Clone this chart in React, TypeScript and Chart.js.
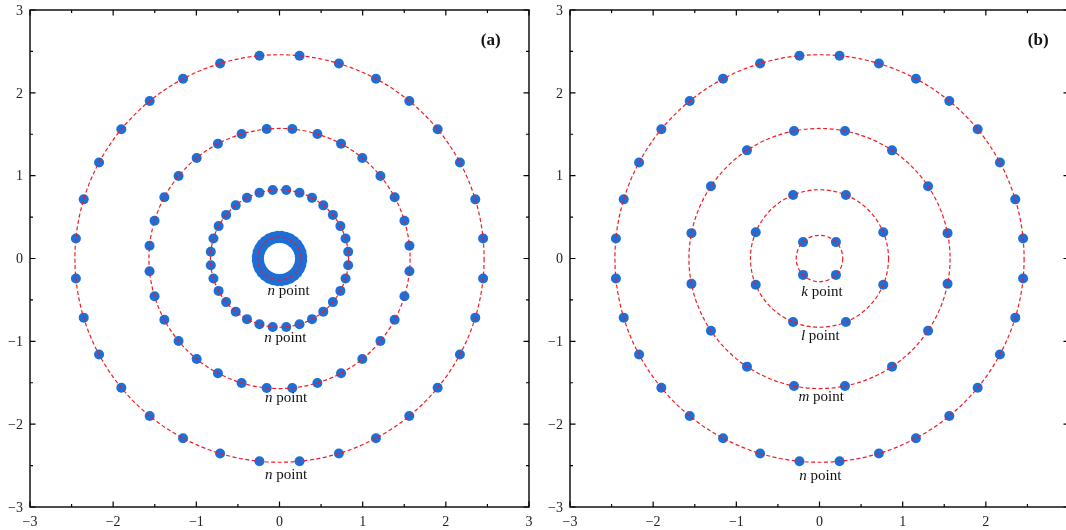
import React, { useEffect, useRef } from 'react';
import { Chart, registerables } from 'chart.js';
Chart.register(...registerables);

// ---- data ----
const tickValues = [-3, -2, -1, 0, 1, 2, 3];
const minorTickValues = [-2.5, -1.5, -0.5, 0.5, 1.5, 2.5];

const ringRadiiA = [0.26, 0.83, 1.57, 2.46];
const ringCountsA = [32, 32, 32, 32];
const ringDotSizeA = [6.2, 5, 5, 5];
const ringLabelsA = ['n', 'n', 'n', 'n'];
const labelXA = [0.11, 0.07, 0.08, 0.08];
const labelYA = [-0.44, -1.01, -1.73, -2.66];

const ringRadiiB = [0.28, 0.83, 1.57, 2.46];
const ringCountsB = [4, 8, 16, 32];
const ringDotSizeB = [5, 5, 5, 5];
const ringLabelsB = ['k', 'l', 'm', 'n'];
const labelXB = [0.03, 0.01, 0.02, 0.01];
const labelYB = [-0.45, -0.985, -1.72, -2.67];

const panelTags = ['(a)', '(b)'];
const panelTagX = [2.54, 2.63];
const panelTagY = 2.58;

const BLUE = 'rgb(30,110,215)';
const RED = 'rgb(238,28,36)';
const SERIF = '"Liberation Serif", "DejaVu Serif", serif';

function ringPoints(r: number, n: number) {
  const pts: { x: number; y: number }[] = [];
  const off = Math.PI / n;
  for (let k = 0; k < n; k++) {
    const a = off + (2 * Math.PI * k) / n;
    pts.push({ x: r * Math.cos(a), y: r * Math.sin(a) });
  }
  return pts;
}

const fmt = (v: number) => (v < 0 ? '\u2212' + Math.abs(v) : String(v));

function makeConfig(
  radii: number[], counts: number[], sizes: number[], labels: string[],
  lx: number[], ly: number[], tag: string, tagX: number
): any {
  const datasets = radii.map((r, i) => ({
    type: 'scatter',
    data: ringPoints(r, counts[i]),
    pointRadius: sizes[i],
    pointBackgroundColor: BLUE,
    pointBorderWidth: 0,
    showLine: false,
  }));
  const deco = {
    id: 'deco',
    afterDatasetsDraw(chart: any) {
      const { ctx, scales } = chart;
      const xs = scales.x, ys = scales.y;
      const cx = xs.getPixelForValue(0), cy = ys.getPixelForValue(0);
      ctx.save();
      ctx.strokeStyle = RED;
      ctx.lineWidth = 1.2;
      ctx.setLineDash([4, 2.5]);
      radii.forEach((r) => {
        const rx = Math.abs(xs.getPixelForValue(r) - cx);
        const ry = Math.abs(ys.getPixelForValue(r) - cy);
        ctx.beginPath();
        ctx.ellipse(cx, cy, rx, ry, 0, 0, Math.PI * 2);
        ctx.stroke();
      });
      ctx.restore();
    },
    afterDraw(chart: any) {
      const { ctx, scales, chartArea: ca } = chart;
      const xs = scales.x, ys = scales.y;
      ctx.save();
      // ring labels
      ctx.fillStyle = '#111';
      ctx.textBaseline = 'alphabetic';
      ctx.textAlign = 'left';
      labels.forEach((l, i) => {
        const it = 'italic 15px ' + SERIF;
        const rg = '15px ' + SERIF;
        ctx.font = it;
        const w1 = ctx.measureText(l).width;
        ctx.font = rg;
        const w2 = ctx.measureText(' point').width;
        const px = xs.getPixelForValue(lx[i]) - (w1 + w2) / 2;
        const py = ys.getPixelForValue(ly[i]);
        ctx.font = it;
        ctx.fillText(l, px, py);
        ctx.font = rg;
        ctx.fillText(' point', px + w1, py);
      });
      // panel tag
      ctx.font = 'bold 17px ' + SERIF;
      ctx.textAlign = 'center';
      ctx.fillText(tag, xs.getPixelForValue(tagX), ys.getPixelForValue(panelTagY));
      // tick labels
      ctx.font = '14px ' + SERIF;
      ctx.fillStyle = '#222';
      ctx.textBaseline = 'middle';
      ctx.textAlign = 'center';
      tickValues.forEach((v) => {
        ctx.fillText(fmt(v), xs.getPixelForValue(v), ca.bottom + 15);
      });
      ctx.textAlign = 'right';
      tickValues.forEach((v) => {
        ctx.fillText(fmt(v), ca.left - 7, ys.getPixelForValue(v) + 1);
      });
      // frame
      ctx.strokeStyle = '#000';
      ctx.lineWidth = 1.4;
      ctx.strokeRect(ca.left, ca.top, ca.right - ca.left, ca.bottom - ca.top);
      // ticks inward on all sides
      ctx.lineWidth = 1.2;
      const drawTicks = (vals: number[], len: number) => {
        ctx.beginPath();
        vals.forEach((v) => {
          const px = xs.getPixelForValue(v);
          ctx.moveTo(px, ca.bottom); ctx.lineTo(px, ca.bottom - len);
          ctx.moveTo(px, ca.top); ctx.lineTo(px, ca.top + len);
          const py = ys.getPixelForValue(v);
          ctx.moveTo(ca.left, py); ctx.lineTo(ca.left + len, py);
          ctx.moveTo(ca.right, py); ctx.lineTo(ca.right - len, py);
        });
        ctx.stroke();
      };
      drawTicks(tickValues, 5.5);
      drawTicks(minorTickValues, 3);
      ctx.restore();
    },
  };
  return {
    type: 'scatter',
    data: { datasets },
    options: {
      animation: false,
      responsive: false,
      maintainAspectRatio: false,
      layout: { padding: { top: 10, right: 11, left: 0, bottom: 0 } },
      plugins: { legend: { display: false }, tooltip: { enabled: false } },
      scales: {
        x: {
          type: 'linear', min: -3, max: 3,
          grid: { display: false }, border: { display: false },
          ticks: { display: false, stepSize: 1 },
          afterFit: (s: any) => { s.height = 23; s.paddingLeft = 0; s.paddingRight = 0; },
        },
        y: {
          type: 'linear', min: -3, max: 3,
          grid: { display: false }, border: { display: false },
          ticks: { display: false, stepSize: 1 },
          afterFit: (s: any) => { s.width = 30; s.paddingTop = 0; s.paddingBottom = 0; },
        },
      },
    },
    plugins: [deco],
  };
}

export default function App() {
  const refA = useRef<HTMLCanvasElement>(null);
  const refB = useRef<HTMLCanvasElement>(null);
  useEffect(() => {
    const a = new Chart(refA.current as HTMLCanvasElement,
      makeConfig(ringRadiiA, ringCountsA, ringDotSizeA, ringLabelsA, labelXA, labelYA, panelTags[0], panelTagX[0]));
    const b = new Chart(refB.current as HTMLCanvasElement,
      makeConfig(ringRadiiB, ringCountsB, ringDotSizeB, ringLabelsB, labelXB, labelYB, panelTags[1], panelTagX[1]));
    return () => { a.destroy(); b.destroy(); };
  }, []);
  return (
    <div style={{ position: 'fixed', left: 0, top: 0, width: 1066, height: 530, overflow: 'hidden', background: '#fff' }}>
      <canvas ref={refA} width={540} height={530} style={{ position: 'absolute', left: 0, top: 0, width: 540, height: 530 }} />
      <canvas ref={refB} width={540} height={530} style={{ position: 'absolute', left: 540, top: 0, width: 540, height: 530 }} />
    </div>
  );
}
